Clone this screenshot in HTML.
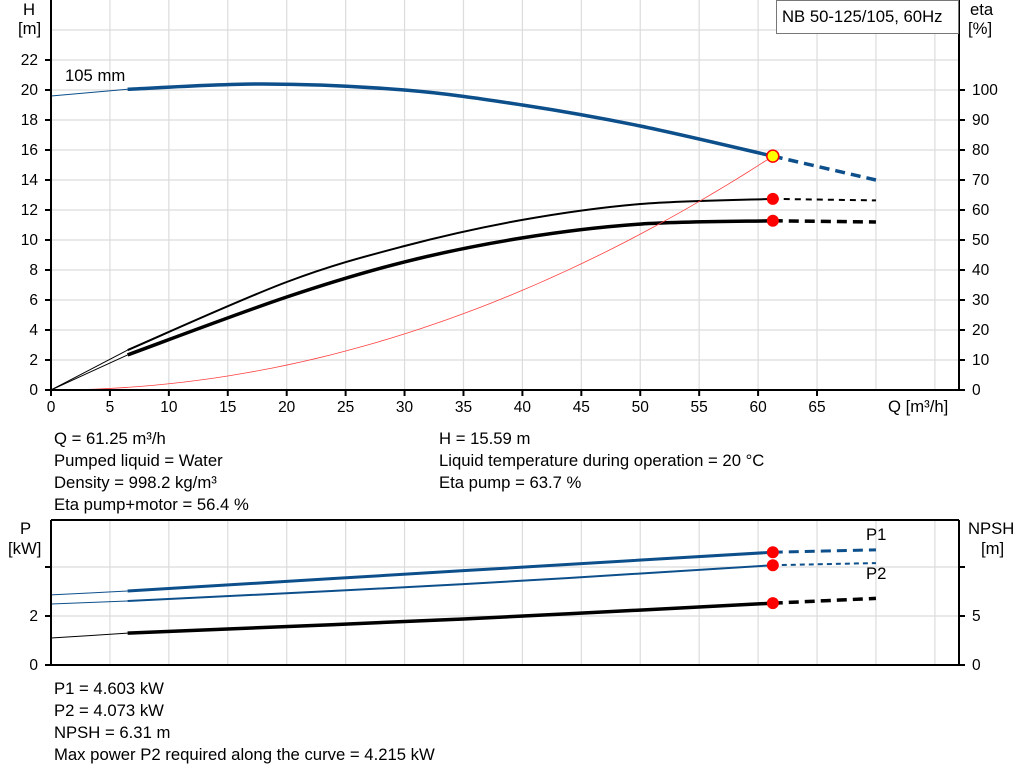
<!DOCTYPE html>
<html><head><meta charset="utf-8"><style>
body{margin:0;background:#fff;width:1024px;height:781px;overflow:hidden;font-family:"Liberation Sans",Arial,sans-serif}
svg{position:absolute;left:0;top:0}
text{font-family:"Liberation Sans",Arial,sans-serif;font-size:16.7px;fill:#000}
text.t{font-size:15.5px}
</style></head><body>
<svg id="s" width="1024" height="781" viewBox="0 0 1024 781">
<g id="grid" stroke="#dcdcdc" stroke-width="1.2"></g>
<g id="curves" fill="none"></g>
<g id="axes" stroke="#000" stroke-width="2" fill="none"></g>
<g id="labels"></g>
<rect x="776.5" y="0.5" width="182" height="33" fill="#fff" stroke="#777"/>
<text x="782" y="22">NB 50-125/105, 60Hz</text>
</svg>
<script>
const NS="http://www.w3.org/2000/svg";
function el(p,t,a,txt){const e=document.createElementNS(NS,t);for(const k in a)e.setAttribute(k,a[k]);if(txt!=null)e.textContent=txt;document.getElementById(p).appendChild(e);return e;}
const X=q=>51+q*11.785;
const YH=h=>390-h*15, YE=e=>390-e*3, YP=p=>665-p*24.5, YN=n=>665-n*9.8;
for(let q=5;q<=75;q+=5)el('grid','line',{x1:X(q),y1:0,x2:X(q),y2:390});
for(let h=2;h<=24;h+=2)el('grid','line',{x1:51,y1:YH(h),x2:959,y2:YH(h)});
for(let q=5;q<=75;q+=5)el('grid','line',{x1:X(q),y1:520,x2:X(q),y2:665});
[616,567].forEach(y=>el('grid','line',{x1:51,y1:y,x2:959,y2:y}));
el('axes','path',{d:'M51,0V390H959M959,0V390'});
el('axes','path',{d:'M51,520H959M51,520V665H959M959,520V665'});
for(let h=0;h<=22;h+=2){el('axes','line',{x1:45,y1:YH(h),x2:51,y2:YH(h)});el('labels','text',{x:38,y:YH(h)+5,'text-anchor':'end','class':'t'},h);}
for(let e=0;e<=100;e+=10){el('axes','line',{x1:959,y1:YE(e),x2:965,y2:YE(e)});el('labels','text',{x:972,y:YE(e)+5,'class':'t'},e);}
for(let q=0;q<=65;q+=5){el('axes','line',{x1:X(q),y1:390,x2:X(q),y2:396});el('labels','text',{x:X(q),y:412,'text-anchor':'middle','class':'t'},q);}
[[665,'0'],[616,'2'],[567,'']].forEach(([y,t])=>{el('axes','line',{x1:45,y1:y,x2:51,y2:y});if(t)el('labels','text',{x:38,y:y+5,'text-anchor':'end','class':'t'},t);});
[[665,'0'],[616,'5'],[567,'']].forEach(([y,t])=>{el('axes','line',{x1:959,y1:y,x2:965,y2:y});if(t)el('labels','text',{x:972,y:y+5,'class':'t'},t);});
function cr(pts){let d='M'+pts[0][0]+','+pts[0][1];for(let i=0;i<pts.length-1;i++){const p0=pts[i-1]||pts[i],p1=pts[i],p2=pts[i+1],p3=pts[i+2]||p2;
d+=`C${p1[0]+(p2[0]-p0[0])/6},${p1[1]+(p2[1]-p0[1])/6} ${p2[0]-(p3[0]-p1[0])/6},${p2[1]-(p3[1]-p1[1])/6} ${p2[0]},${p2[1]}`;}return d;}
function curve(data,yf,color,w0,w1,dash){
 const pts=data.map(([q,v])=>[X(q),yf(v)]);
 const i0=data.findIndex(d=>d[0]>=6.5), i1=data.findIndex(d=>d[0]>=61.25);
 el('curves','path',{d:cr(pts.slice(0,i0+1)),stroke:color,'stroke-width':1});
 el('curves','path',{d:cr(pts.slice(i0,i1+1)),stroke:color,'stroke-width':w1});
 el('curves','path',{d:cr(pts.slice(i1)),stroke:color,'stroke-width':w1,'stroke-dasharray':dash});
}
const blue='#0d4f8b';
curve([[0,19.6],[6.5,20.05],[18,20.4],[30,20.0],[40,19.0],[50,17.6],[61.25,15.59],[70,14.0]],YH,blue,1,3.5,'10,6');
curve([[0,0],[6.5,13.3],[20,36],[30,48],[40,56.7],[50,62],[61.25,63.7],[70,63.2]],YE,'#000',1,2,'6,5');
curve([[0,0],[6.5,11.7],[20,31],[30,42.7],[40,50.7],[50,55.3],[61.25,56.4],[70,56]],YE,'#000',1,3.5,'10,6');
let d='';for(let q=0;q<=61.25;q+=1.25){d+=(q?'L':'M')+X(q)+','+YH(15.59*(q/61.25)**2);}
el('curves','path',{d,stroke:'#ff4040','stroke-width':0.8});
curve([[0,2.86],[6.5,3.02],[35,3.85],[61.25,4.603],[70,4.7]],YP,blue,1,3,'10,6');
curve([[0,2.49],[6.5,2.61],[35,3.3],[61.25,4.073],[70,4.16]],YP,blue,1,2,'5,4');
curve([[0,2.75],[6.5,3.25],[35,4.7],[61.25,6.31],[70,6.8]],YN,'#000',1,3.5,'10,6');
[[YE(63.7)],[YE(56.4)],[YP(4.603)],[YP(4.073)],[YN(6.31)]].forEach(([y])=>el('curves','circle',{cx:X(61.25),cy:y,r:6,fill:'#ff0000',stroke:'none'}));
el('curves','circle',{cx:X(61.25),cy:YH(15.59),r:6,fill:'#ffff00',stroke:'#ff0000','stroke-width':1.5});
const T=[[23,15,'H'],[18,34,'[m]'],[970,15,'eta'],[968,34,'[%]'],[65,81,'105 mm'],[888,412,'Q [m³/h]'],
[54,444,'Q = 61.25 m³/h'],[54,466,'Pumped liquid = Water'],[54,488,'Density = 998.2 kg/m³'],[54,510,'Eta pump+motor = 56.4 %'],
[439,444,'H = 15.59 m'],[439,466,'Liquid temperature during operation = 20 °C'],[439,488,'Eta pump = 63.7 %'],
[20,534,'P'],[8,554,'[kW]'],[968,534,'NPSH'],[981,554,'[m]'],
[54,694,'P1 = 4.603 kW'],[54,716,'P2 = 4.073 kW'],[54,738,'NPSH = 6.31 m'],[54,760,'Max power P2 required along the curve = 4.215 kW']];
T.forEach(([x,y,t])=>el('labels','text',{x,y},t));
el('labels','text',{x:866,y:540,fill:'#2a6aa8'},'P1');
el('labels','text',{x:866,y:579,fill:'#2a6aa8'},'P2');
</script>
</body></html>
